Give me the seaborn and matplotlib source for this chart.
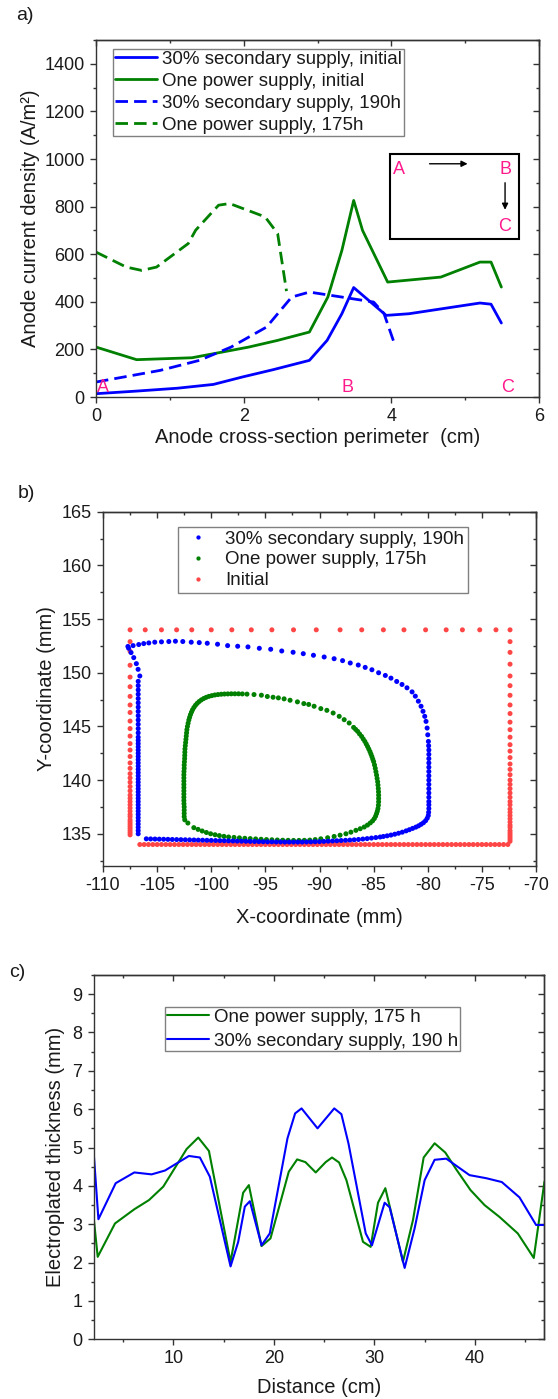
import numpy as np
import pandas as pd
import matplotlib
matplotlib.use('Agg')
import matplotlib.pyplot as plt
import seaborn as sns
from matplotlib.patches import Rectangle
from matplotlib.ticker import MultipleLocator, NullFormatter

# ---------------- panel a: anode current density ----------------
sec_init_x = [0.0, 0.55, 1.1, 1.59, 1.98, 2.4, 2.89, 3.13, 3.33, 3.49, 3.93, 4.24, 5.20, 5.35, 5.49]
sec_init_y = [14, 25, 37, 53, 84, 115, 154, 238, 350, 460, 343, 350, 395, 390, 311]
one_init_x = [0.0, 0.55, 1.3, 2.07, 2.46, 2.89, 3.14, 3.33, 3.49, 3.61, 3.95, 4.67, 5.20, 5.35, 5.49]
one_init_y = [210, 157, 165, 210, 238, 273, 420, 616, 826, 700, 483, 504, 567, 567, 462]
sec_190_x = [0.0, 0.87, 1.40, 1.83, 2.31, 2.65, 2.89, 3.33, 3.76, 3.90, 4.05]
sec_190_y = [63, 112, 154, 210, 294, 420, 441, 420, 399, 351, 217]
one_175_x = [0.0, 0.41, 0.62, 0.82, 1.25, 1.35, 1.66, 1.81, 2.29, 2.46, 2.58]
one_175_y = [609, 546, 532, 546, 645, 701, 806, 813, 757, 687, 445]
labels_a = ['30% secondary supply, initial', 'One power supply, initial',
            '30% secondary supply, 190h', 'One power supply, 175h']

# ---------------- panel b: anode profile ----------------
init_top_x = [-107.5, -106.1, -104.6, -103.2, -101.8, -100.0, -98.1, -96.3, -94.4, -92.4,
              -90.3, -88.1, -86.1, -84.1, -82.2, -80.2, -78.3, -76.8, -75.2, -73.7, -72.4]
init_left_y = [152.9, 152.0, 150.7, 149.6, 148.7, 147.8, 147.0, 146.3, 145.5, 144.8, 144.1,
               143.4, 142.8, 142.2, 141.6, 141.1, 140.6, 140.2, 139.8, 139.4, 139.0, 138.6,
               138.3, 138.0, 137.7, 137.4, 137.1, 136.8, 136.6, 136.3, 136.1, 135.9, 135.7,
               135.5, 135.3, 135.1, 134.9]
init_bottom_x = [-106.6, -106.2, -105.8, -105.4, -105.0, -104.6, -104.2, -103.8, -103.4, -103.0,
                 -102.6, -102.2, -101.8, -101.4, -101.0, -100.6, -100.2, -99.8, -99.4, -99.0,
                 -98.6, -98.2, -97.8, -97.4, -97.0, -96.6, -96.2, -95.8, -95.4, -95.0, -94.6,
                 -94.2, -93.8, -93.4, -93.0, -92.6, -92.2, -91.8, -91.4, -91.0, -90.6, -90.2,
                 -89.8, -89.4, -89.0, -88.6, -88.2, -87.8, -87.4, -87.0, -86.6, -86.2, -85.8,
                 -85.4, -85.0, -84.6, -84.2, -83.8, -83.4, -83.0, -82.6, -82.2, -81.8, -81.4,
                 -81.0, -80.6, -80.2, -79.8, -79.4, -79.0, -78.6, -78.2, -77.8, -77.4, -77.0,
                 -76.6, -76.2, -75.8, -75.4, -75.0, -74.6, -74.2, -73.8, -73.4, -73.0, -72.6]
init_right_y = [152.9, 151.9, 150.8, 149.7, 148.8, 147.9, 147.0, 146.2, 145.4, 144.7, 144.0,
                143.3, 142.7, 142.1, 141.5, 141.0, 140.5, 140.0, 139.6, 139.2, 138.8, 138.4,
                138.0, 137.7, 137.3, 137.0, 136.7, 136.4, 136.1, 135.8, 135.6, 135.3, 135.1,
                134.9, 134.7, 134.5, 134.3]

sec_left_y = [135.0, 135.3, 135.6, 135.9, 136.2, 136.5, 136.8, 137.1, 137.4, 137.7, 138.0,
              138.3, 138.6, 138.9, 139.2, 139.5, 139.8, 140.1, 140.4, 140.7, 141.0, 141.3,
              141.6, 141.9, 142.2, 142.5, 142.8, 143.1, 143.4, 143.7, 144.0, 144.4, 144.8,
              145.2, 145.6, 146.0, 146.4, 146.8, 147.2, 147.6, 148.0, 148.4, 148.8, 149.2]
sec_path = [(-106.6, 149.7), (-106.76, 150.32), (-106.92, 150.85), (-107.16, 151.41),
            (-107.41, 151.88), (-107.63, 152.28), (-107.7, 152.45), (-107.22, 152.53),
            (-106.7, 152.63), (-106.24, 152.72), (-105.77, 152.78), (-105.22, 152.85),
            (-104.6, 152.88), (-103.92, 152.91), (-103.31, 152.94), (-102.63, 152.91),
            (-101.85, 152.85), (-101.11, 152.81), (-100.37, 152.75), (-99.42, 152.66),
            (-98.49, 152.53), (-97.56, 152.47), (-96.61, 152.41), (-95.56, 152.28),
            (-94.51, 152.19), (-93.49, 152.03), (-92.44, 151.91), (-91.5, 151.78),
            (-90.56, 151.63), (-89.57, 151.47), (-88.65, 151.31), (-87.87, 151.13),
            (-87.16, 150.91), (-86.42, 150.72), (-85.78, 150.5), (-85.16, 150.28),
            (-84.54, 150.0), (-83.92, 149.75), (-83.4, 149.5), (-82.87, 149.19),
            (-82.38, 148.91), (-81.92, 148.6), (-81.45, 148.22), (-81.15, 147.82),
            (-80.87, 147.35), (-80.62, 146.88), (-80.44, 146.41), (-80.28, 145.94),
            (-80.16, 145.47), (-80.06, 144.85), (-80.0, 144.22), (-79.94, 143.6),
            (-79.92, 143.2), (-79.9, 142.8), (-79.9, 142.4), (-79.9, 142.0), (-79.9, 141.6),
            (-79.9, 141.2), (-79.9, 140.8), (-79.9, 140.4), (-79.9, 140.0), (-79.9, 139.6),
            (-79.9, 139.2), (-79.9, 138.8), (-79.9, 138.4), (-79.9, 138.0), (-79.9, 137.7),
            (-79.9, 137.35), (-79.92, 137.0), (-79.95, 136.7), (-80.05, 136.45),
            (-80.2, 136.22), (-80.4, 136.03), (-80.62, 135.88), (-80.85, 135.74),
            (-81.1, 135.62), (-81.4, 135.5), (-81.7, 135.38), (-82.0, 135.27),
            (-82.35, 135.15), (-82.7, 135.05), (-83.05, 134.96), (-83.4, 134.88),
            (-83.75, 134.81), (-84.1, 134.75)]
sec_bottom_x = [-84.4, -84.8, -85.2, -85.6, -86.0, -86.4, -86.8, -87.2, -87.6, -88.0, -88.4,
                -88.8, -89.2, -89.6, -90.0, -90.4, -90.8, -91.2, -91.6, -92.0, -92.4, -92.8,
                -93.2, -93.6, -94.0, -94.4, -94.8, -95.2, -95.6, -96.0, -96.4, -96.8, -97.2,
                -97.6, -98.0, -98.4, -98.8, -99.2, -99.6, -100.0, -100.4, -100.8, -101.2,
                -101.6, -102.0, -102.4, -102.8, -103.2, -103.6, -104.0, -104.4, -104.8,
                -105.2, -105.6, -106.0]
sec_bottom_y = [134.70, 134.65, 134.60, 134.55, 134.51, 134.47, 134.44, 134.41, 134.39, 134.37,
                134.35, 134.33, 134.31, 134.29, 134.27, 134.26, 134.25, 134.24, 134.23, 134.23,
                134.23, 134.23, 134.23, 134.24, 134.24, 134.25, 134.25, 134.26, 134.27, 134.28,
                134.29, 134.30, 134.31, 134.32, 134.33, 134.34, 134.35, 134.36, 134.37, 134.38,
                134.39, 134.40, 134.41, 134.42, 134.43, 134.44, 134.45, 134.46, 134.47, 134.48,
                134.49, 134.50, 134.51, 134.52, 134.53]

one_path = [(-102.45, 136.3), (-102.5, 136.6), (-102.5, 136.9), (-102.5, 137.2), (-102.5, 137.5),
            (-102.52, 137.8), (-102.53, 138.1), (-102.53, 138.4), (-102.53, 138.7),
            (-102.53, 139.0), (-102.53, 139.3), (-102.53, 139.6), (-102.53, 139.9),
            (-102.53, 140.2), (-102.53, 140.5), (-102.52, 140.8), (-102.5, 141.1),
            (-102.5, 141.4), (-102.48, 141.7), (-102.46, 142.0), (-102.45, 142.3),
            (-102.44, 142.6), (-102.43, 142.9), (-102.4, 143.2), (-102.37, 143.5),
            (-102.34, 143.8), (-102.31, 144.1), (-102.28, 144.4), (-102.25, 144.7),
            (-102.2, 145.0), (-102.14, 145.3), (-102.07, 145.6), (-102.0, 145.85),
            (-101.92, 146.1), (-101.83, 146.33), (-101.73, 146.55), (-101.6, 146.77),
            (-101.46, 146.97), (-101.3, 147.15), (-101.12, 147.32), (-100.92, 147.47),
            (-100.7, 147.6), (-100.47, 147.71), (-100.22, 147.8), (-99.95, 147.87),
            (-99.67, 147.93), (-99.38, 147.97), (-99.08, 148.0), (-98.78, 148.02),
            (-98.47, 148.03), (-98.15, 148.04), (-97.82, 148.04), (-97.48, 148.04),
            (-97.13, 148.03), (-96.7, 148.01), (-96.05, 147.97), (-95.37, 147.91),
            (-94.82, 147.79), (-94.29, 147.72), (-93.8, 147.66), (-93.27, 147.57),
            (-92.72, 147.44), (-92.04, 147.29), (-91.45, 147.13), (-91.0, 147.05),
            (-90.5, 146.88), (-89.88, 146.66), (-89.32, 146.5), (-88.74, 146.25),
            (-88.18, 145.94), (-87.72, 145.63), (-87.26, 145.32), (-86.85, 144.91),
            (-86.66, 144.72), (-86.48, 144.54), (-86.3, 144.3), (-86.11, 144.07),
            (-85.96, 143.83), (-85.81, 143.6), (-85.68, 143.36), (-85.56, 143.13),
            (-85.45, 142.9), (-85.34, 142.66), (-85.25, 142.43), (-85.16, 142.19),
            (-85.08, 141.95), (-85.0, 141.72), (-84.92, 141.41), (-84.85, 141.1),
            (-84.79, 140.78), (-84.73, 140.47), (-84.68, 140.16), (-84.63, 139.85),
            (-84.6, 139.54), (-84.57, 139.22), (-84.55, 138.91), (-84.54, 138.6),
            (-84.54, 138.29), (-84.54, 137.98), (-84.56, 137.66), (-84.6, 137.35),
            (-84.66, 137.1), (-84.73, 136.88), (-84.82, 136.64), (-84.94, 136.41),
            (-85.1, 136.2), (-85.31, 136.01), (-85.57, 135.81), (-85.87, 135.63),
            (-86.24, 135.47), (-86.64, 135.32), (-87.1, 135.15), (-87.56, 135.0),
            (-88.1, 134.87), (-88.65, 134.75), (-89.25, 134.63), (-89.88, 134.53),
            (-90.4, 134.46), (-90.9, 134.41), (-91.4, 134.39), (-91.9, 134.38),
            (-92.4, 134.38), (-92.9, 134.39), (-93.4, 134.4), (-93.9, 134.42),
            (-94.4, 134.44), (-94.9, 134.46), (-95.4, 134.49), (-95.9, 134.52),
            (-96.4, 134.55), (-96.9, 134.58), (-97.4, 134.62), (-97.9, 134.66),
            (-98.4, 134.7), (-98.83, 134.76), (-99.25, 134.83), (-99.65, 134.91),
            (-100.06, 135.0), (-100.45, 135.12), (-100.84, 135.26), (-101.22, 135.41),
            (-101.61, 135.57), (-102.16, 136.0)]
labels_b = ['30% secondary supply, 190h', 'One power supply, 175h', 'Initial']

# ---------------- panel c: electroplated thickness ----------------
one_dist = [2.06, 2.49, 4.21, 6.13, 7.59, 9.01, 11.33, 12.49, 13.55, 15.70, 16.95, 17.52,
            18.78, 19.67, 21.49, 22.32, 23.14, 24.17, 25.16, 25.79, 26.49, 27.22, 28.87,
            29.63, 30.36, 31.09, 31.85, 32.84, 33.84, 34.90, 35.99, 37.05, 38.14, 39.56,
            40.95, 42.44, 44.26, 45.85, 46.91]
one_thick = [3.25, 2.15, 3.02, 3.39, 3.63, 3.98, 4.96, 5.26, 4.91, 2.02, 3.82, 4.02,
             2.43, 2.63, 4.37, 4.69, 4.62, 4.35, 4.62, 4.74, 4.61, 4.15, 2.54,
             2.41, 3.56, 3.94, 3.11, 2.02, 3.11, 4.74, 5.11, 4.87, 4.43, 3.89,
             3.50, 3.19, 2.76, 2.12, 4.11]
sec_dist = [2.06, 2.56, 4.28, 6.13, 7.85, 9.18, 11.56, 12.65, 13.64, 15.70, 16.46, 17.12,
            17.62, 18.78, 19.60, 21.36, 22.12, 22.76, 24.35, 26.01, 26.72, 27.43, 29.14,
            29.76, 31.02, 31.52, 33.01, 34.0, 35.0, 35.99, 37.15, 39.46, 41.12, 42.67,
            44.43, 46.08, 46.91]
sec_thick = [4.98, 3.13, 4.07, 4.35, 4.30, 4.40, 4.78, 4.74, 4.24, 1.90, 2.54, 3.46,
             3.60, 2.45, 2.76, 5.24, 5.89, 6.02, 5.50, 6.02, 5.87, 5.10, 2.76,
             2.45, 3.56, 3.44, 1.86, 2.89, 4.15, 4.68, 4.71, 4.28, 4.20, 4.10,
             3.70, 2.98, 2.98]
labels_c = ['One power supply, 175 h', '30% secondary supply, 190 h']

BLUE = '#0000ff'
GREEN = '#008000'
RED = '#ff4646'
PINK = '#ff1a8c'
FRAME = '#333333'
TICK_FS = 13
LABEL_FS = 14.5
LEG_FS = 13.5

sns.set_style('ticks')
plt.rcParams['font.family'] = ['Liberation Sans', 'DejaVu Sans']
plt.rcParams['axes.unicode_minus'] = False
plt.rcParams['axes.edgecolor'] = FRAME
plt.rcParams['axes.linewidth'] = 1.0
plt.rcParams['xtick.color'] = FRAME
plt.rcParams['ytick.color'] = FRAME
plt.rcParams['xtick.labelcolor'] = '#1a1a1a'
plt.rcParams['ytick.labelcolor'] = '#1a1a1a'
plt.rcParams['text.color'] = '#1a1a1a'
plt.rcParams['axes.labelcolor'] = '#1a1a1a'


def style_axes(ax, xmaj, xmin, ymaj, ymin):
    ax.xaxis.set_major_locator(MultipleLocator(xmaj))
    ax.xaxis.set_minor_locator(MultipleLocator(xmin))
    ax.yaxis.set_major_locator(MultipleLocator(ymaj))
    ax.yaxis.set_minor_locator(MultipleLocator(ymin))
    ax.tick_params(which='major', direction='out', length=4.5, width=1.0, labelsize=TICK_FS)
    ax.tick_params(which='minor', direction='out', length=2.5, width=1.0)
    # mirrored ticks pointing inwards (Origin style)
    top = ax.secondary_xaxis('top')
    top.xaxis.set_major_locator(MultipleLocator(xmaj))
    top.xaxis.set_minor_locator(MultipleLocator(xmin))
    top.xaxis.set_major_formatter(NullFormatter())
    top.tick_params(which='major', direction='in', length=4.5, width=1.0)
    top.tick_params(which='minor', direction='in', length=2.5, width=1.0)
    right = ax.secondary_yaxis('right')
    right.yaxis.set_major_locator(MultipleLocator(ymaj))
    right.yaxis.set_minor_locator(MultipleLocator(ymin))
    right.yaxis.set_major_formatter(NullFormatter())
    right.tick_params(which='major', direction='in', length=4.5, width=1.0)
    right.tick_params(which='minor', direction='in', length=2.5, width=1.0)
    for sp in ax.spines.values():
        sp.set_visible(True)


def line_legend(ax, anchor, spacing):
    h, l = ax.get_legend_handles_labels()
    ax.legend(h, l, loc='upper left', bbox_to_anchor=anchor, fontsize=LEG_FS,
              frameon=True, fancybox=False, edgecolor='#808080', framealpha=1,
              borderpad=0.1, borderaxespad=0, handlelength=2.25, handletextpad=0.27,
              labelspacing=spacing)


fig = plt.figure(figsize=(5.58, 13.99), dpi=100)
ax_a = fig.add_axes([0.172, 0.7162, 0.794, 0.2552])
ax_b = fig.add_axes([0.1846, 0.381, 0.776, 0.2532])
ax_c = fig.add_axes([0.1677, 0.0427, 0.808, 0.2604])

# ---- a ----
df_a = pd.concat([
    pd.DataFrame({'x': sec_init_x, 'y': sec_init_y, 'series': labels_a[0]}),
    pd.DataFrame({'x': one_init_x, 'y': one_init_y, 'series': labels_a[1]}),
    pd.DataFrame({'x': sec_190_x, 'y': sec_190_y, 'series': labels_a[2]}),
    pd.DataFrame({'x': one_175_x, 'y': one_175_y, 'series': labels_a[3]}),
], ignore_index=True)
pal_a = dict(zip(labels_a, [BLUE, GREEN, BLUE, GREEN]))
dash_a = dict(zip(labels_a, ['', '', (4.5, 2.2), (4.5, 2.2)]))
sns.lineplot(data=df_a, x='x', y='y', hue='series', style='series', hue_order=labels_a,
             style_order=labels_a, palette=pal_a, dashes=dash_a, sort=False,
             estimator=None, linewidth=2.0, ax=ax_a)
ax_a.set_xlim(0, 6)
ax_a.set_ylim(0, 1500)
style_axes(ax_a, 2, 1, 200, 100)
ax_a.set_xlabel('Anode cross-section perimeter  (cm)', fontsize=LABEL_FS, labelpad=2)
ax_a.set_ylabel('Anode current density (A/m²)', fontsize=LABEL_FS, labelpad=3)
line_legend(ax_a, (0.038, 0.975), 0.26)
ax_a.add_patch(Rectangle((3.98, 665), 1.75, 357, fill=False, edgecolor='black', lw=1.5))
ax_a.text(4.1, 955, 'A', color=PINK, fontsize=13, ha='center', va='center')
ax_a.text(5.54, 955, 'B', color=PINK, fontsize=13, ha='center', va='center')
ax_a.text(5.54, 717, 'C', color=PINK, fontsize=13, ha='center', va='center')
ax_a.annotate('', xy=(5.07, 980), xytext=(4.48, 980),
              arrowprops=dict(arrowstyle='-|>', color='black', lw=1.0, mutation_scale=9))
ax_a.annotate('', xy=(5.54, 775), xytext=(5.54, 912),
              arrowprops=dict(arrowstyle='-|>', color='black', lw=1.0, mutation_scale=9))
ax_a.text(0.1, 40, 'A', color=PINK, fontsize=13, ha='center', va='center')
ax_a.text(3.4, 40, 'B', color=PINK, fontsize=13, ha='center', va='center')
ax_a.text(5.57, 40, 'C', color=PINK, fontsize=13, ha='center', va='center')

# ---- b ----
init_x = init_top_x + [-107.5] * len(init_left_y) + init_bottom_x + [-72.4] * len(init_right_y)
init_y = [154.0] * len(init_top_x) + init_left_y + [134.0] * len(init_bottom_x) + init_right_y
sec_x = [-106.75] * len(sec_left_y) + [p[0] for p in sec_path] + sec_bottom_x
sec_y = sec_left_y + [p[1] for p in sec_path] + sec_bottom_y
one_x = [p[0] for p in one_path]
one_y = [p[1] for p in one_path]
df_b = pd.concat([
    pd.DataFrame({'x': init_x, 'y': init_y, 'series': labels_b[2]}),
    pd.DataFrame({'x': one_x, 'y': one_y, 'series': labels_b[1]}),
    pd.DataFrame({'x': sec_x, 'y': sec_y, 'series': labels_b[0]}),
], ignore_index=True)
pal_b = dict(zip(labels_b, [BLUE, GREEN, RED]))
sns.scatterplot(data=df_b, x='x', y='y', hue='series', hue_order=labels_b, palette=pal_b,
                s=13, linewidth=0, ax=ax_b)
ax_b.set_xlim(-110, -70)
ax_b.set_ylim(132, 165)
style_axes(ax_b, 5, 2.5, 5, 2.5)
ax_b.set_xlabel('X-coordinate (mm)', fontsize=LABEL_FS, labelpad=10)
ax_b.set_ylabel('Y-coordinate (mm)', fontsize=LABEL_FS, labelpad=4)
h, l = ax_b.get_legend_handles_labels()
ax_b.legend(h, l, loc='upper left', bbox_to_anchor=(0.173, 0.958), fontsize=LEG_FS,
            frameon=True, fancybox=False, edgecolor='#808080', framealpha=1,
            borderpad=0.2, borderaxespad=0, handlelength=1.7, handletextpad=0.6,
            labelspacing=0.2, markerscale=0.85)

# ---- c ----
df_c = pd.concat([
    pd.DataFrame({'x': one_dist, 'y': one_thick, 'series': labels_c[0]}),
    pd.DataFrame({'x': sec_dist, 'y': sec_thick, 'series': labels_c[1]}),
], ignore_index=True)
pal_c = dict(zip(labels_c, [GREEN, BLUE]))
sns.lineplot(data=df_c, x='x', y='y', hue='series', hue_order=labels_c, palette=pal_c,
             sort=False, estimator=None, linewidth=1.5, ax=ax_c)
ax_c.set_xlim(2.08, 46.91)
ax_c.set_ylim(0, 9.5)
style_axes(ax_c, 10, 5, 1, 0.5)
ax_c.set_xlabel('Distance (cm)', fontsize=LABEL_FS, labelpad=8)
ax_c.set_ylabel('Electroplated thickness (mm)', fontsize=LABEL_FS, labelpad=5)
line_legend(ax_c, (0.158, 0.912), 0.34)

fig.text(0.029, 0.989, 'a)', fontsize=14, ha='left', va='center')
fig.text(0.032, 0.647, 'b)', fontsize=14, ha='left', va='center')
fig.text(0.016, 0.305, 'c)', fontsize=14, ha='left', va='center')

fig.savefig('out.png', dpi=100)
